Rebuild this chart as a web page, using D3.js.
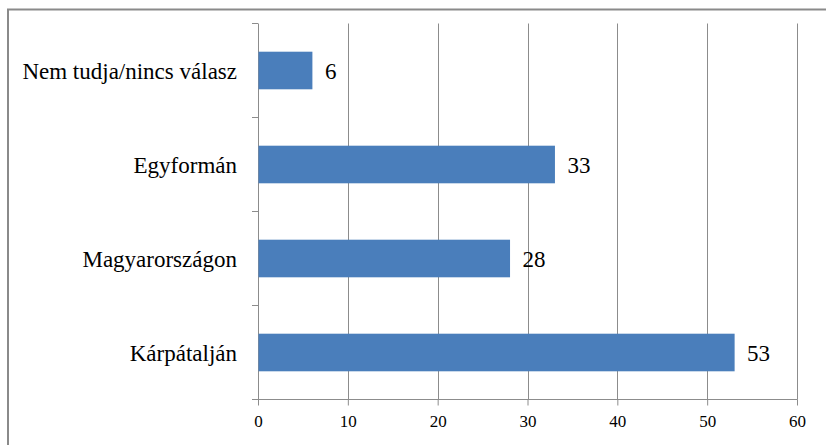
<!DOCTYPE html>
<html>
<head>
<meta charset="utf-8">
<script src="https://cdn.jsdelivr.net/npm/d3@7"></script>
<style>
  html, body { margin: 0; padding: 0; background: #fff; }
  svg { display: block; }
</style>
</head>
<body>
<svg id="main"></svg>
<script>
//--------data----------
const categories = ['Nem tudja/nincs válasz', 'Egyformán', 'Magyarországon', 'Kárpátalján'];
const values = [6, 33, 28, 53];
const xTicks = [0, 10, 20, 30, 40, 50, 60];

//--------code----------
const serif = '"Liberation Serif", "Times New Roman", serif';
let width = 826;
let height = 445;
let svg = d3.select('#main')
.attr('width', width)
.attr('height', height);

//outer chart frame (continues past the right/bottom edge)
svg.append('rect')
.attr('x', 8)
.attr('y', 9.5)
.attr('width', width + 20)
.attr('height', height + 20)
.attr('fill', 'none')
.attr('stroke', '#8a8a8a')
.attr('stroke-width', 2);

let sx = d3.scaleLinear().domain([0, 60]).range([258, 797]);
let sy = d3.scaleBand().domain(categories).range([23.5, 399.5])
.paddingInner(0.6)
.paddingOuter(0.3);

//vertical gridlines
svg.selectAll('.grid')
.data(xTicks.slice(1))
.join('line')
.attr('class', 'grid')
.attr('x1', d => Math.round(sx(d)) + 0.5)
.attr('x2', d => Math.round(sx(d)) + 0.5)
.attr('y1', sy.range()[0])
.attr('y2', sy.range()[1])
.attr('stroke', '#8c8c8c')
.attr('stroke-width', 1);

//bottom axis
let ax = d3.axisBottom(sx).tickValues(xTicks).tickSize(6).tickSizeOuter(0).tickPadding(9);
let gx = svg.append('g')
.attr('transform', `translate(0,${sy.range()[1]})`)
.attr('font-family', serif)
.call(ax);
gx.select('.domain').remove();
gx.selectAll('.tick line').attr('stroke', '#8c8c8c');
gx.selectAll('.tick text')
.style('font-family', serif)
.style('font-size', '17px')
.attr('fill', '#000');
svg.append('line')
.attr('x1', 252).attr('x2', sx(60) + 0.5)
.attr('y1', sy.range()[1]).attr('y2', sy.range()[1])
.attr('stroke', '#8c8c8c');

//left axis with ticks between categories
svg.append('line')
.attr('x1', sx(0) + 0.5).attr('x2', sx(0) + 0.5)
.attr('y1', sy.range()[0]).attr('y2', sy.range()[1])
.attr('stroke', '#8c8c8c');
let bounds = d3.range(categories.length + 1).map(i => sy.range()[0] + i * sy.step());
svg.selectAll('.ytick')
.data(bounds)
.join('line')
.attr('class', 'ytick')
.attr('x1', 252).attr('x2', sx(0))
.attr('y1', d => d).attr('y2', d => d)
.attr('stroke', '#8c8c8c');

//bars
svg.selectAll('.bar')
.data(values)
.join('rect')
.attr('class', 'bar')
.attr('x', sx(0) + 0.5)
.attr('y', (d, i) => sy(categories[i]))
.attr('width', d => sx(d) - sx(0))
.attr('height', sy.bandwidth())
.attr('fill', '#4a7ebb');

//category labels
svg.selectAll('.catLabel')
.data(categories)
.join('text')
.attr('class', 'catLabel')
.attr('x', 237)
.attr('y', d => sy(d) + sy.bandwidth() / 2)
.attr('dy', '0.35em')
.style('text-anchor', 'end')
.style('font-family', serif)
.style('font-size', '23px')
.attr('fill', '#000')
.text(d => d);

//value labels
svg.selectAll('.valLabel')
.data(values)
.join('text')
.attr('class', 'valLabel')
.attr('x', d => sx(d) + 13)
.attr('y', (d, i) => sy(categories[i]) + sy.bandwidth() / 2)
.attr('dy', '0.35em')
.style('font-family', serif)
.style('font-size', '23px')
.attr('fill', '#000')
.text(d => d);
</script>
</body>
</html>
